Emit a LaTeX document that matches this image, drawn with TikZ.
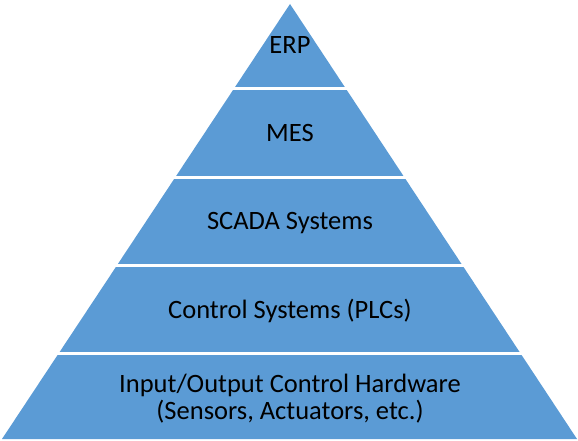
\documentclass[tikz,border=0pt]{standalone}
\usepackage{fontspec}
\setmainfont{Carlito}
\definecolor{layerblue}{HTML}{5B9BD5}
\begin{document}
\begin{tikzpicture}[x=1pt,y=-1pt,
  layer/.style={fill=layerblue},
  label/.style={font=\fontsize{26.5}{27.5}\selectfont, text=black, inner sep=0pt, align=center}]
\useasboundingbox (0,0) rectangle (578,441);
% outline of the whole pyramid
\coordinate (apex) at (290,4);
\coordinate (bl) at (2,439);
\coordinate (br) at (577,439);
\begin{scope}
  \clip (apex) -- (br) -- (bl) -- cycle;
  % five horizontal bands separated by thin white gaps
  \fill[layer] (0,0)   rectangle (578,87);
  \fill[layer] (0,90)  rectangle (578,175.5);
  \fill[layer] (0,178.5) rectangle (578,264);
  \fill[layer] (0,267) rectangle (578,352);
  \fill[layer] (0,355) rectangle (578,441);
\end{scope}
\node[label, anchor=base] (erp) at (290,53.5) {ERP};
\node[label, anchor=base] (mes) at (290,141.5) {MES};
\node[label, anchor=base] (scada) at (290,229) {SCADA Systems};
\node[label, anchor=base] (plc) at (290,318) {Control Systems (PLCs)};
\node[label] (io) at (290,398.5) {Input/Output Control Hardware\\(Sensors, Actuators, etc.)};
\end{tikzpicture}
\end{document}
